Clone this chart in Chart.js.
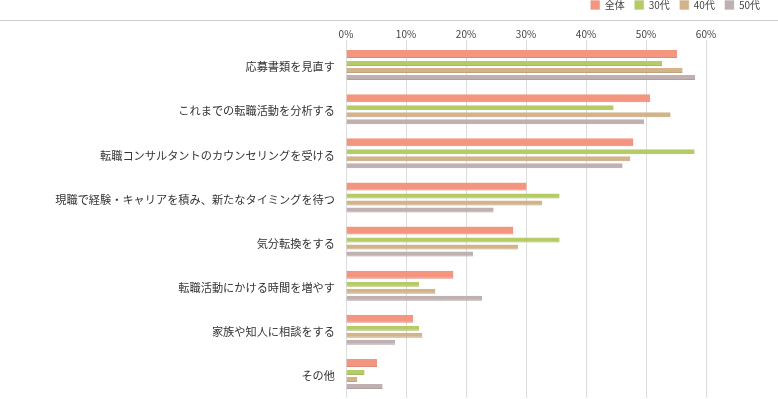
<!DOCTYPE html>
<html>
<head>
<meta charset="utf-8">
<script src="https://cdn.jsdelivr.net/npm/chart.js@4/dist/chart.umd.min.js"></script>
<style>
  html, body { margin: 0; padding: 0; background: #fff; }
  #wrap { position: relative; width: 778px; height: 399px; overflow: hidden; }
  #chart { position: absolute; left: 0; top: -10px; }
</style>
</head>
<body>
<div id="wrap"><canvas id="chart" width="778" height="408"></canvas></div>
<script>
const categories = [
    '応募書類を見直す',
    'これまでの転職活動を分析する',
    '転職コンサルタントのカウンセリングを受ける',
    '現職で経験・キャリアを積み、新たなタイミングを待つ',
    '気分転換をする',
    '転職活動にかける時間を増やす',
    '家族や知人に相談をする',
    'その他'
];
const seriesNames = ['全体', '30代', '40代', '50代'];
const zentai = [55.2, 50.7, 47.9, 30.1, 27.9, 17.9, 11.2, 5.2];
const age30 = [52.7, 44.6, 58.1, 35.6, 35.6, 12.2, 12.2, 3.1];
const age40 = [56.1, 54.1, 47.4, 32.7, 28.7, 14.9, 12.7, 1.9];
const age50 = [58.2, 49.7, 46.1, 24.6, 21.2, 22.7, 8.2, 6.1];
const xTicks = [0, 10, 20, 30, 40, 50, 60];

const fills = ['#f4957f', '#b5cb67', '#d3b38a', '#c0b1b1'];
const edges = ['#e0897a', '#a4b95c', '#c2a27c', '#ae9fa0'];
const FONT = '"Noto Sans CJK JP", "Noto Sans", sans-serif';

function mkSet(i, data) {
    const big = i === 0;
    return {
        label: seriesNames[i],
        data: data,
        backgroundColor: fills[i],
        borderColor: edges[i],
        borderWidth: { top: 0, right: 0, bottom: 1, left: 0 },
        borderSkipped: false,
        categoryPercentage: big ? 0.788 : 0.636,
        barPercentage: big ? 0.923 : 0.714
    };
}

// thin grey rule under the legend
const topRule = {
    id: 'topRule',
    afterDraw(chart) {
        const ctx = chart.ctx;
        ctx.save();
        ctx.strokeStyle = '#cccccc';
        ctx.lineWidth = 1;
        ctx.beginPath();
        ctx.moveTo(0, 30.5);
        ctx.lineTo(chart.width, 30.5);
        ctx.stroke();
        ctx.restore();
    }
};

new Chart(document.getElementById('chart'), {
    type: 'bar',
    data: {
        labels: categories,
        datasets: [mkSet(0, zentai), mkSet(1, age30), mkSet(2, age40), mkSet(3, age50)]
    },
    options: {
        indexAxis: 'y',
        responsive: false,
        animation: false,
        layout: { padding: { top: 0, left: 0, bottom: 0, right: 8 } },
        plugins: {
            legend: {
                position: 'top',
                align: 'end',
                labels: {
                    boxWidth: 9,
                    boxHeight: 9,
                    padding: 10,
                    color: '#444',
                    font: { family: FONT, size: 10 }
                }
            },
            tooltip: { enabled: false }
        },
        scales: {
            x: {
                position: 'top',
                min: 0,
                max: 60,
                afterBuildTicks: s => { s.ticks = xTicks.map(v => ({ value: v })); },
                afterFit: s => { s.height = 25; },
                grid: { color: '#dddddd', lineWidth: 1, tickLength: 5, drawTicks: true },
                border: { display: false },
                ticks: {
                    padding: 0,
                    color: '#444',
                    font: { family: FONT, size: 10 },
                    callback: v => v + '%'
                }
            },
            y: {
                offset: true,
                afterFit: s => { s.width = 346; s.paddingTop = 0; s.paddingBottom = 0; },
                grid: { display: false, drawTicks: false },
                border: { display: false },
                ticks: {
                    padding: 11,
                    color: '#333',
                    font: { family: FONT, size: 11.2 }
                }
            },
            // empty strip on the right, keeps the plot at 0-60%
            yRight: {
                type: 'category',
                position: 'right',
                display: true,
                afterFit: s => { s.width = 64; s.paddingTop = 0; s.paddingBottom = 0; },
                grid: { display: false, drawTicks: false },
                border: { display: false },
                ticks: { display: false }
            }
        }
    },
    plugins: [topRule]
});
</script>
</body>
</html>
